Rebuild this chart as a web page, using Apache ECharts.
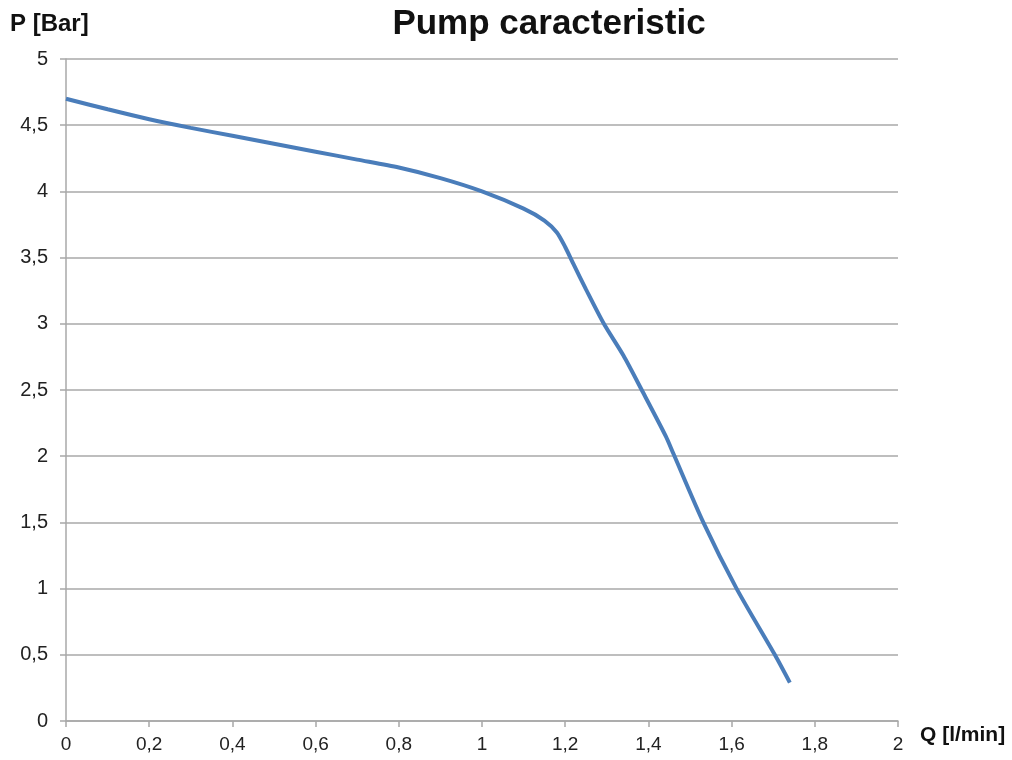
<!DOCTYPE html>
<html>
<head>
<meta charset="utf-8">
<script src="https://cdn.jsdelivr.net/npm/echarts@6/dist/echarts.min.js"></script>
<style>html,body{margin:0;padding:0;background:#fff}#c{width:1012px;height:760px}</style>
</head>
<body>
<div id="c"></div>
<script>
const flowQ = [0, 0.1, 0.2, 0.3, 0.4, 0.5, 0.6, 0.7, 0.8, 0.9, 1.0, 1.1, 1.15, 1.18, 1.2, 1.22, 1.25, 1.293, 1.34, 1.384, 1.442, 1.46, 1.532, 1.612, 1.704, 1.74];
const pressureP = [4.70, 4.62, 4.545, 4.48, 4.42, 4.36, 4.30, 4.24, 4.18, 4.10, 4.00, 3.87, 3.78, 3.69, 3.58, 3.45, 3.26, 3.00, 2.76, 2.50, 2.15, 2.02, 1.50, 1.00, 0.50, 0.29];
const titleText = 'Pump caracteristic';
const yName = 'P [Bar]';
const xName = 'Q [l/min]';

const chart = echarts.init(document.getElementById('c'));
const fmt = v => String(Math.round(v * 10) / 10).replace('.', ',');
const font = '"Liberation Sans", Arial, Helvetica, sans-serif';
chart.setOption({
  backgroundColor: '#fff',
  animation: false,
  title: {
    text: titleText, left: 544, top: 2, textAlign: 'center',
    textStyle: { fontFamily: font, fontWeight: 'bold', fontSize: 35, color: '#111' }
  },
  graphic: [
    { type: 'text', left: 10, top: 12, style: { text: yName, fontFamily: font, fontWeight: 'bold', fontSize: 24, fill: '#111' } },
    { type: 'text', left: 920, top: 725, style: { text: xName, fontFamily: font, fontWeight: 'bold', fontSize: 21, fill: '#111' } }
  ],
  grid: { left: 66, right: 114, top: 59, bottom: 39, containLabel: false },
  xAxis: {
    type: 'value', min: 0, max: 2, interval: 0.2,
    axisLine: { show: true, lineStyle: { color: '#a8a8a8', width: 1.5 } },
    axisTick: { show: true, length: 6, lineStyle: { color: '#a8a8a8', width: 1.5 } },
    splitLine: { show: false },
    axisLabel: { formatter: fmt, fontFamily: font, fontSize: 19, color: '#222', margin: 14 }
  },
  yAxis: {
    type: 'value', min: 0, max: 5, interval: 0.5,
    axisLine: { show: true, lineStyle: { color: '#a8a8a8', width: 1.5 } },
    axisTick: { show: true, length: 6, lineStyle: { color: '#a8a8a8', width: 1.5 } },
    splitLine: { show: true, lineStyle: { color: '#a8a8a8', width: 1.5 } },
    axisLabel: { formatter: fmt, fontFamily: font, fontSize: 20, color: '#222', margin: 18 }
  },
  series: [{
    type: 'line',
    data: flowQ.map((q, i) => [q, pressureP[i]]),
    smooth: 0.25,
    showSymbol: false,
    lineStyle: { color: '#4a7dba', width: 4 }
  }]
});
</script>
</body>
</html>
